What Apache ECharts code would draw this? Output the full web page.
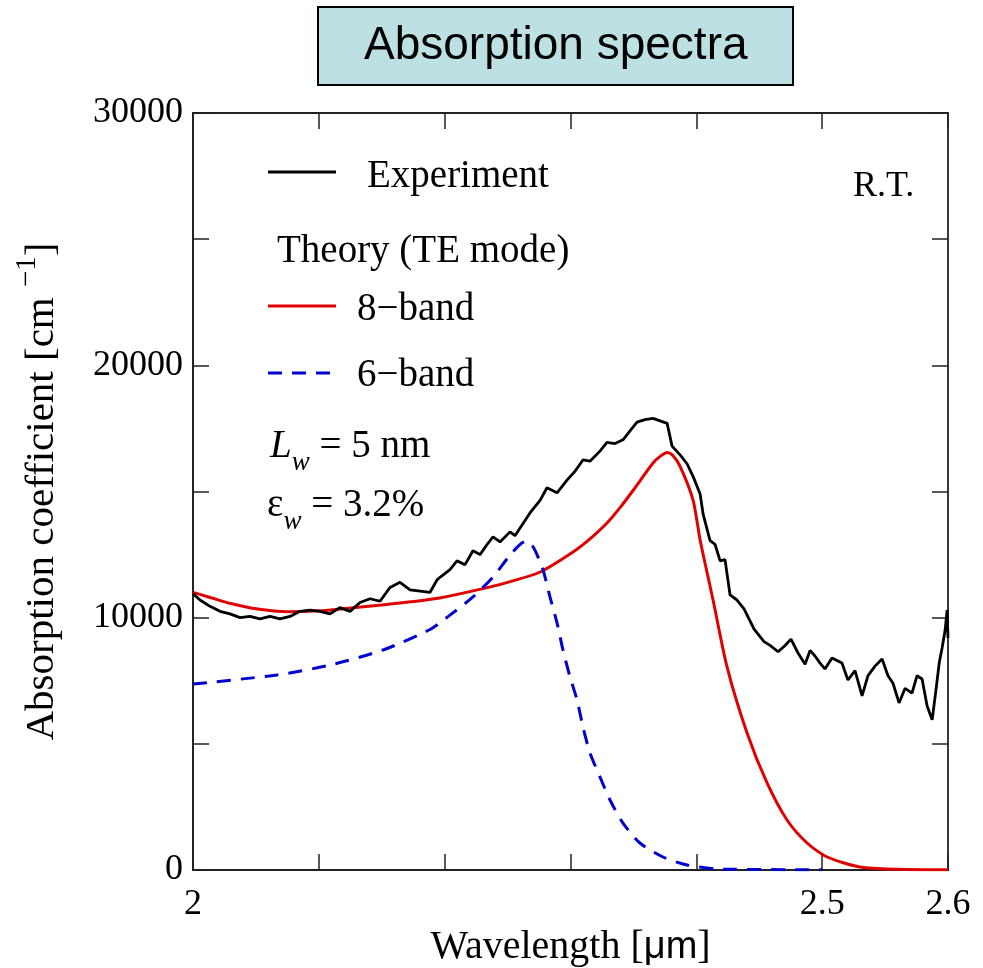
<!DOCTYPE html>
<html><head><meta charset="utf-8">
<script src="https://cdn.jsdelivr.net/npm/echarts@6/dist/echarts.min.js"></script>
<style>html,body{margin:0;padding:0;background:#fff}#c{width:983px;height:968px}</style>
</head><body><div id="c"></div><script>
// ---- data ----
const expWavelength = [2.000,2.0056,2.0135,2.0215,2.0294,2.0374,2.0453,2.0532,2.0612,2.0691,2.0771,2.0850,2.0930,2.1009,2.1089,2.1168,2.1248,2.1327,2.1407,2.1486,2.1566,2.1645,2.1725,2.1804,2.1883,2.194,2.1963,2.2042,2.2098,2.2162,2.2225,2.2281,2.2337,2.2384,2.2440,2.2519,2.2559,2.2599,2.2678,2.2758,2.2813,2.2893,2.2972,2.3036,2.3099,2.3155,2.3234,2.3290,2.3354,2.3417,2.3473,2.3529,2.3592,2.3656,2.3712,2.3768,2.3807,2.3871,2.3926,2.3974,2.4030,2.4054,2.4109,2.4149,2.4189,2.4228,2.4268,2.4323,2.4379,2.4459,2.4538,2.4586,2.4650,2.4705,2.4752,2.4808,2.4864,2.4904,2.4943,2.4983,2.5022,2.5078,2.5157,2.5205,2.5261,2.5317,2.5364,2.5420,2.5476,2.5523,2.5563,2.5611,2.5659,2.5714,2.5754,2.5794,2.5834,2.5874,2.5906,2.5930,2.5953,2.5977,2.5993,2.600];
const expAbsorption = [10950,10700,10450,10250,10150,10000,10050,9950,10050,9950,10050,10250,10300,10250,10150,10400,10250,10600,10750,10650,11200,11400,11100,11050,11000,11500,11600,11900,12250,12100,12650,12500,12900,13200,13000,13400,13250,13550,14150,14650,15150,14950,15450,15800,16250,16200,16600,16950,16900,17050,17400,17750,17850,17900,17800,17700,16800,16450,16100,15600,14900,14100,13050,12900,12250,12300,10900,10700,10350,9550,9050,8900,8650,8900,9150,8600,8150,8700,8480,8200,7970,8400,8200,7530,7900,6900,7700,8080,8360,7700,7400,6620,7200,7010,7700,7570,6500,5950,7200,8200,8800,9500,10300,9200];

const band8Wavelength = [2.000,2.015,2.030,2.050,2.075,2.100,2.125,2.150,2.175,2.196,2.226,2.250,2.276,2.302,2.315,2.329,2.340,2.350,2.3656,2.3720,2.3767,2.3810,2.3871,2.3974,2.403,2.4133,2.4244,2.4403,2.4562,2.4721,2.488,2.504,2.530,2.560,2.600];
const band8Absorption = [11000,10780,10560,10350,10230,10270,10380,10500,10640,10780,11100,11400,11810,12600,13100,13750,14400,15060,16130,16420,16550,16450,16000,14660,13080,10700,8050,5430,3450,1980,1070,515,120,30,10];

const band6Wavelength = [2.000,2.0667,2.1088,2.1510,2.1884,2.2042,2.2225,2.2384,2.2519,2.2600,2.2638,2.2680,2.2720,2.2782,2.2837,2.2893,2.2940,2.2996,2.3052,2.3099,2.3155,2.3234,2.3314,2.3417,2.3552,2.3735,2.3926,2.4164,2.500];
const band6Absorption = [7370,7730,8120,8720,9530,10100,10820,11610,12480,12900,13010,12950,12650,11890,10820,9790,8720,7650,6740,5670,4640,3690,2775,1860,1070,515,200,40,10];

const xTickValues = [2, 2.5, 2.6];
const xTickLabels = ['2', '2.5', '2.6'];
const yTickValues = [0, 10000, 20000, 30000];
const yTickLabels = ['0', '10000', '20000', '30000'];

const zip = (a, b) => a.map((v, i) => [v, b[i]]);

const serif = 'Liberation Serif, Times New Roman, serif';
const axisColor = '#222';

function xLabel(v) {
  const i = xTickValues.findIndex(t => Math.abs(t - v) < 1e-6);
  return i >= 0 ? xTickLabels[i] : '';
}
function yLabel(v) {
  const i = yTickValues.findIndex(t => Math.abs(t - v) < 1e-6);
  return i >= 0 ? yTickLabels[i] : '';
}

const chart = echarts.init(document.getElementById('c'));
const tickStyle = () => ({ show: true, inside: true, length: 16, interval: 0, lineStyle: { color: axisColor, width: 1.5 } });
const lineOn = () => ({ show: true, lineStyle: { color: axisColor, width: 1.8 } });
const lineOff = () => ({ show: true, onZero: false, lineStyle: { color: axisColor, width: 1.8 } });
const gridBox = () => ({ left: 193, right: 35, top: 113, bottom: 98, containLabel: false, outerBoundsMode: 'none' });

chart.setOption({
  backgroundColor: '#fff',
  animation: false,
  title: {
    text: 'Absorption spectra',
    left: 318, top: 7,
    padding: [14, 46],
    backgroundColor: '#bde0e3',
    borderColor: '#000', borderWidth: 2,
    textStyle: { fontFamily: 'Liberation Sans, Arial, sans-serif', fontSize: 46, fontWeight: 'normal', color: '#000', lineHeight: 50 }
  },
  grid: [gridBox(), gridBox()],
  xAxis: [{
    gridIndex: 0, type: 'value', position: 'bottom', min: 2, max: 2.6, interval: 0.1,
    axisLine: lineOn(), axisTick: tickStyle(), splitLine: { show: false },
    axisLabel: { formatter: xLabel, interval: 0, fontFamily: serif, fontSize: 36, color: '#000', margin: 17 },
    name: '{n|Wavelength [}{s|μm}{n|]}', nameLocation: 'middle', nameGap: 48,
    nameTextStyle: { rich: { n: { fontFamily: serif, fontSize: 40, color: '#000' }, s: { fontFamily: 'Liberation Sans, Arial, sans-serif', fontSize: 38, color: '#000' } } }
  }, {
    gridIndex: 0, type: 'value', position: 'top', min: 2, max: 2.6, interval: 0.1,
    axisLine: lineOff(), axisTick: tickStyle(), splitLine: { show: false }, axisLabel: { show: false }
  }, {
    gridIndex: 1, type: 'value', position: 'bottom', min: 2, max: 2.6, interval: 0.1,
    axisLine: lineOff(), axisTick: tickStyle(), splitLine: { show: false }, axisLabel: { show: false }
  }],
  yAxis: [{
    gridIndex: 0, type: 'value', min: 0, max: 30000, interval: 5000,
    axisLine: lineOn(), axisTick: tickStyle(), splitLine: { show: false },
    axisLabel: { formatter: yLabel, fontFamily: serif, fontSize: 36, color: '#000', margin: 10 },
    name: '{n|Absorption coefficient [cm }{sup|−1}{n|]}', nameLocation: 'middle', nameGap: 122,
    nameTextStyle: { rich: { n: { fontFamily: serif, fontSize: 41, color: '#000', lineHeight: 58 }, sup: { fontFamily: serif, fontSize: 29, color: '#000', verticalAlign: 'top', lineHeight: 58 } } }
  }, {
    gridIndex: 0, type: 'value', position: 'right', min: 0, max: 30000, interval: 5000,
    axisLine: lineOff(), axisTick: tickStyle(), splitLine: { show: false }, axisLabel: { show: false }
  }, {
    gridIndex: 1, type: 'value', position: 'left', min: 0, max: 30000, interval: 5000,
    axisLine: lineOff(), axisTick: tickStyle(), splitLine: { show: false }, axisLabel: { show: false }
  }],
  series: [
    { name: 'Experiment', type: 'line', xAxisIndex: 0, yAxisIndex: 0, data: zip(expWavelength, expAbsorption), symbol: 'none', lineStyle: { color: '#000', width: 2.8 }, z: 3 },
    { name: '8−band', type: 'line', xAxisIndex: 0, yAxisIndex: 0, data: zip(band8Wavelength, band8Absorption), smooth: 0.25, symbol: 'none', lineStyle: { color: '#e00000', width: 3 }, z: 2 },
    { name: '6−band', type: 'line', xAxisIndex: 0, yAxisIndex: 0, data: zip(band6Wavelength, band6Absorption), smooth: 0.25, symbol: 'none', lineStyle: { color: '#0000d0', width: 3, type: [14, 10] }, z: 2 }
  ],
  graphic: [
    { type: 'line', shape: { x1: 268, y1: 172, x2: 336, y2: 172 }, style: { stroke: '#000', lineWidth: 2.8 } },
    { type: 'line', shape: { x1: 268, y1: 306, x2: 336, y2: 306 }, style: { stroke: '#e00000', lineWidth: 3 } },
    { type: 'line', shape: { x1: 268, y1: 373, x2: 336, y2: 373 }, style: { stroke: '#0000d0', lineWidth: 3, lineDash: [14, 10] } },
    { type: 'text', x: 367, y: 177, style: { text: 'Experiment', font: '39px ' + serif, fill: '#000', verticalAlign: 'middle' } },
    { type: 'text', x: 277, y: 252, style: { text: 'Theory (TE mode)', font: '39px ' + serif, fill: '#000', verticalAlign: 'middle' } },
    { type: 'text', x: 357, y: 310, style: { text: '8−band', font: '39px ' + serif, fill: '#000', verticalAlign: 'middle' } },
    { type: 'text', x: 357, y: 376, style: { text: '6−band', font: '39px ' + serif, fill: '#000', verticalAlign: 'middle' } },
    { type: 'text', x: 853, y: 187, style: { text: 'R.T.', font: '36px ' + serif, fill: '#000', verticalAlign: 'middle' } },
    { type: 'text', x: 270, y: 447, style: {
      text: '{i|L}{sub|w}{n| = 5 nm}', verticalAlign: 'middle',
      rich: { i: { fontFamily: serif, fontStyle: 'italic', fontSize: 39, fill: '#000', lineHeight: 40 },
              sub: { fontFamily: serif, fontStyle: 'italic', fontSize: 27, fill: '#000', verticalAlign: 'bottom', lineHeight: 58 },
              n: { fontFamily: serif, fontSize: 39, fill: '#000', lineHeight: 40 } } } },
    { type: 'text', x: 267, y: 506, style: {
      text: '{n|ε}{sub|w}{n| = 3.2%}', verticalAlign: 'middle',
      rich: { sub: { fontFamily: serif, fontStyle: 'italic', fontSize: 27, fill: '#000', verticalAlign: 'bottom', lineHeight: 58 },
              n: { fontFamily: serif, fontSize: 39, fill: '#000', lineHeight: 40 } } } }
  ]
});
</script></body></html>
